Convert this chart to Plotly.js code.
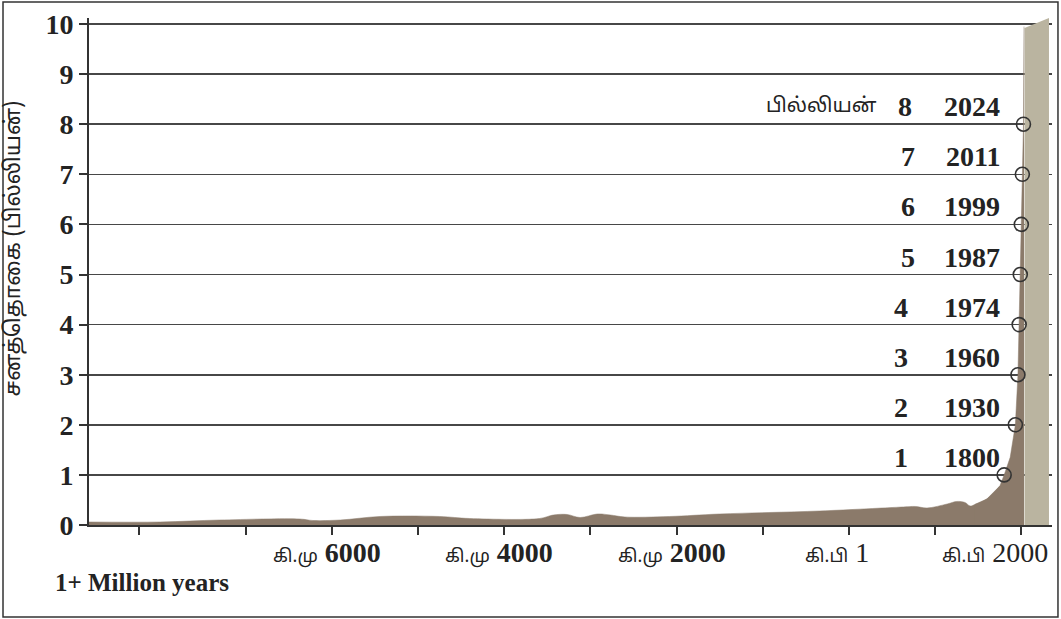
<!DOCTYPE html>
<html>
<head>
<meta charset="utf-8">
<script src="https://cdn.plot.ly/plotly-3.0.1.min.js"></script>
<style>
  html, body { margin: 0; padding: 0; background: #ffffff; }
  #chart { width: 1061px; height: 619px; }
</style>
</head>
<body>
<div id="chart"></div>
<script>
// ---- Data ----
// Brown area, slow-growth part: world population (billions) by year
const earlyYears = [-8817, -7990, -7300, -6370, -6220, -5900, -5440, -4750, -4400, -3590,
                    -3430, -3270, -3120, -2920, -2770, -2600, -2080, -1500, -340, 630,
                    770, 905, 1140, 1250, 1345, 1405, 1460, 1600, 1750];
const earlyPop   = [0.06, 0.06, 0.10, 0.12, 0.09, 0.10, 0.17, 0.17, 0.13, 0.13,
                    0.20, 0.21, 0.15, 0.22, 0.20, 0.16, 0.17, 0.22, 0.28, 0.36,
                    0.37, 0.34, 0.42, 0.47, 0.45, 0.38, 0.41, 0.52, 0.78];
// Brown area, steep modern part
const modernYears = [1460, 1600, 1750, 1800, 1870, 1930, 1960, 1974, 1987, 1999, 2011, 2024, 2030];
const modernPop   = [0.41, 0.52, 0.78, 1.00, 1.35, 2, 3, 4, 5, 6, 7, 8, 9.95];

// Light band at the right edge
const bandYears = [2036, 2036, 2320, 2320];
const bandPop   = [0, 9.92, 10.12, 0];

// Milestones (billions reached, year)
const milestoneBillions = [1, 2, 3, 4, 5, 6, 7, 8];
const milestoneYears    = [1800, 1930, 1960, 1974, 1987, 1999, 2011, 2024];

// Axis ticks
const yTicks = [0, 1, 2, 3, 4, 5, 6, 7, 8, 9, 10];
const xTickVals = [-8240, -7000, -6000, -5000, -4000, -3000, -2000, -1000, 1, 1000, 2000];
const xLabelVals   = [-6000, -4000, -2000, 1, 2000];
const xLabelPrefix = ['கி.மு', 'கி.மு', 'கி.மு', 'கி.பி', 'கி.பி'];
const xLabelNums   = ['6000', '4000', '2000', '1', '2000'];
const xLabelBold   = [true, true, true, false, false];

const yTitle = 'சனத்தொகை (பில்லியன்)';
const billionWord = 'பில்லியன்';
const startNote = '1+ Million years';

// ---- Styling ----
const SERIF = 'Liberation Serif, Times New Roman, serif';
const TAMIL = 'Noto Sans Tamil, Latha, Noto Sans, sans-serif';
const INK = '#232323';
const BROWN = '#8b7a6a';
const TAN = '#bab4a0';

const traces = [
  {
    x: bandYears, y: bandPop, type: 'scatter', mode: 'lines',
    fill: 'toself', fillcolor: TAN, line: {width: 0, color: TAN},
    hoverinfo: 'skip', showlegend: false
  },
  {
    x: earlyYears, y: earlyPop, type: 'scatter', mode: 'lines',
    fill: 'tozeroy', fillcolor: BROWN, line: {width: 0.5, color: BROWN, shape: 'spline', smoothing: 1},
    hoverinfo: 'skip', showlegend: false
  },
  {
    x: modernYears, y: modernPop, type: 'scatter', mode: 'lines',
    fill: 'tozeroy', fillcolor: BROWN, line: {width: 0.5, color: BROWN},
    hoverinfo: 'skip', showlegend: false
  },
  {
    x: milestoneYears, y: milestoneBillions, type: 'scatter', mode: 'markers',
    marker: {symbol: 'circle-open', size: 14, color: '#333333', line: {width: 1.6, color: '#333333'}},
    hoverinfo: 'skip', showlegend: false
  }
];

const annotations = [];
milestoneBillions.forEach((b, i) => {
  const numX = b >= 5 && b <= 7 ? 680 : (b === 8 ? 650 : 600);
  annotations.push({
    x: numX, y: b, xref: 'x', yref: 'y', xanchor: 'center', yanchor: 'bottom',
    text: '<b>' + b + '</b>', showarrow: false, yshift: 0,
    font: {family: SERIF, size: 28, color: INK}
  });
  annotations.push({
    x: 1770, y: b, xref: 'x', yref: 'y', xanchor: 'right', yanchor: 'bottom',
    text: '<b>' + milestoneYears[i] + '</b>', showarrow: false, yshift: 0,
    font: {family: SERIF, size: 28, color: INK}
  });
});
annotations.push({
  x: 348, y: 8, xref: 'x', yref: 'y', xanchor: 'right', yanchor: 'bottom',
  text: billionWord, showarrow: false, yshift: 3,
  font: {family: TAMIL, size: 20, color: INK}
});

xLabelVals.forEach((v, i) => {
  const num = xLabelBold[i] ? '<b>' + xLabelNums[i] + '</b>' : xLabelNums[i];
  const last = i === xLabelVals.length - 1;
  annotations.push({
    x: v, y: 0, xref: 'x', yref: 'paper',
    xanchor: last ? 'right' : 'center', yanchor: 'top',
    xshift: last ? 29 : (xLabelBold[i] ? -5 : -12), yshift: -10,
    text: '<span style="font-family:' + TAMIL + ';font-size:18px">' + xLabelPrefix[i] + '</span> ' +
          '<span style="font-size:28px">' + num + '</span>',
    showarrow: false,
    font: {family: SERIF, size: 28, color: INK}
  });
});

annotations.push({
  x: -0.077, y: 0.545, xref: 'paper', yref: 'paper', xanchor: 'center', yanchor: 'middle',
  textangle: -90, text: yTitle, showarrow: false,
  font: {family: TAMIL, size: 22, color: INK}
});
annotations.push({
  x: -0.0374, y: -0.114, xref: 'paper', yref: 'paper', xanchor: 'left', yanchor: 'middle',
  text: '<b>' + startNote + '</b>', showarrow: false,
  font: {family: SERIF, size: 25, color: INK}
});

const layout = {
  width: 1061, height: 619,
  margin: {l: 89, r: 9, t: 18, b: 94},
  paper_bgcolor: '#ffffff', plot_bgcolor: '#ffffff',
  showlegend: false,
  xaxis: {
    range: [-8817, 2355], type: 'linear',
    tickmode: 'array', tickvals: xTickVals, ticktext: xTickVals.map(() => ''),
    ticks: 'outside', ticklen: 8, tickwidth: 2, tickcolor: '#333333',
    showline: true, linecolor: '#333333', linewidth: 2,
    showgrid: false, zeroline: false, fixedrange: true
  },
  yaxis: {
    range: [0, 10.12],
    tickmode: 'array', tickvals: yTicks, ticktext: yTicks.map(String),
    ticks: 'outside', ticklen: 8, tickwidth: 2, tickcolor: '#333333',
    tickfont: {family: SERIF, size: 28, color: INK, weight: 'bold'},
    showline: true, linecolor: '#333333', linewidth: 2,
    showgrid: true, gridcolor: '#474747', gridwidth: 1.6,
    zeroline: false, fixedrange: true
  },
  annotations: annotations,
  shapes: [{
    type: 'rect', xref: 'paper', yref: 'paper',
    x0: -0.0893, x1: 1.0062, y0: -0.1815, y1: 1.0316,
    line: {color: '#333333', width: 1.5}, fillcolor: 'rgba(0,0,0,0)', layer: 'above'
  }]
};

Plotly.newPlot('chart', traces, layout, {staticPlot: true, displayModeBar: false});
</script>
</body>
</html>
